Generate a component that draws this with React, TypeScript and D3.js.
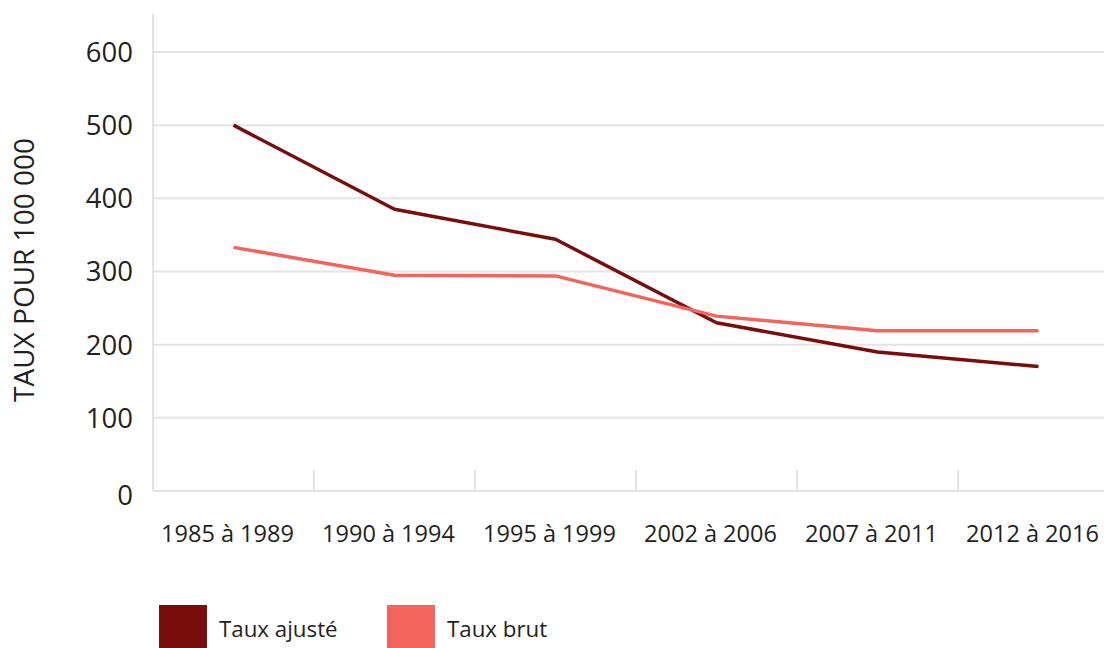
import React from "react";
import * as d3 from "d3";

const categories = ["1985 à 1989", "1990 à 1994", "1995 à 1999", "2002 à 2006", "2007 à 2011", "2012 à 2016"];
const tauxAjuste = [500, 385, 344, 230, 190, 170];
const tauxBrut = [333, 295, 294, 239, 219, 219];
const yTicks = [0, 100, 200, 300, 400, 500, 600];
const seriesNames = ["Taux ajusté", "Taux brut"];
const seriesColors = ["#780d0b", "#f2645c"];
const yTitle = "TAUX POUR 100 000";

const W = 1104;
const H = 648;
const left = 153;
const bandW = 161;
const axisTop = 14;
const font = "'Open Sans', sans-serif";
const textColor = "#231f20";
const gridColor = "#e4e4e4";

export default function App() {
  const x = d3.scaleBand<string>().domain(categories).range([left, left + bandW * categories.length]).padding(0);
  const y = d3.scaleLinear().domain([0, 600]).range([491, 52]);
  const cx = (c: string) => (x(c) as number) + x.bandwidth() / 2;
  const line = d3
    .line<number>()
    .x((_, i) => cx(categories[i]))
    .y((v) => y(v));
  const series = [tauxAjuste, tauxBrut];

  return (
    <svg
      width={W}
      height={H}
      style={{ position: "absolute", left: 0, top: 0, background: "#fff" }}
      fontFamily={font}
    >
      {yTicks.map((t) => (
        <line key={"g" + t} x1={left} x2={W} y1={y(t)} y2={y(t)} stroke={gridColor} strokeWidth={2} />
      ))}
      <line x1={left} x2={left} y1={axisTop} y2={y(0)} stroke={gridColor} strokeWidth={2} />
      {categories.slice(1).map((c) => (
        <line key={"t" + c} x1={x(c) as number} x2={x(c) as number} y1={y(0) - 21} y2={y(0)} stroke={gridColor} strokeWidth={2} />
      ))}
      {yTicks.map((t) => (
        <text
          key={"yl" + t}
          x={133}
          y={y(t) + (t === 0 ? 4 : 0)}
          dy="0.36em"
          textAnchor="end"
          fontSize={27.5}
          fill={textColor}
        >
          {t}
        </text>
      ))}
      <text
        transform={`translate(34,270) rotate(-90)`}
        textAnchor="middle"
        fontSize={28}
        fill={textColor}
      >
        {yTitle}
      </text>
      {categories.map((c) => (
        <text key={"xl" + c} x={cx(c) - 6} y={542} textAnchor="middle" fontSize={23.5} fill={textColor}>
          {c}
        </text>
      ))}
      {series.map((s, i) => (
        <path key={"s" + i} d={line(s) || ""} fill="none" stroke={seriesColors[i]} strokeWidth={3.5} strokeLinejoin="round" />
      ))}
      {seriesNames.map((n, i) => (
        <g key={"lg" + n} transform={`translate(${159 + i * 228},605)`}>
          <rect x={0} y={0} width={48} height={43} fill={seriesColors[i]} />
          <text x={60} y={32} fontSize={22.3} fill={textColor}>
            {n}
          </text>
        </g>
      ))}
    </svg>
  );
}
